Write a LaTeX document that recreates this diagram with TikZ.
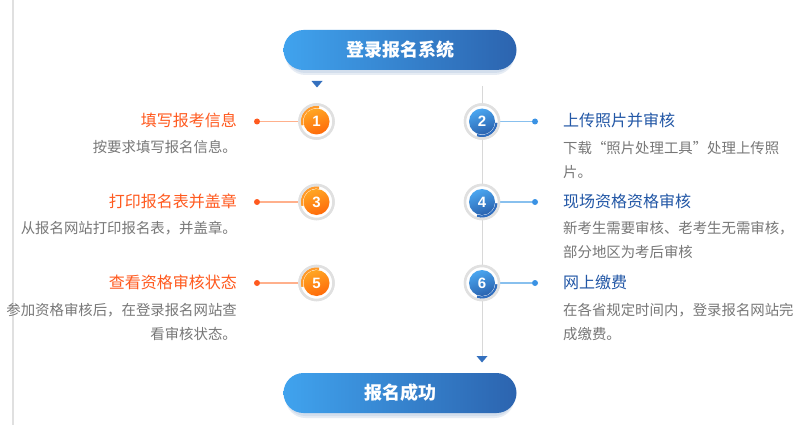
\documentclass[tikz,border=0pt]{standalone}
\usepackage{fontspec}
\setmainfont{Noto Sans CJK SC}
\newfontfamily\numfont{Liberation Sans}
\definecolor{orangeA}{HTML}{FFA623}
\definecolor{orangeB}{HTML}{FF6A0A}
\definecolor{blueA}{HTML}{4AA6F0}
\definecolor{blueB}{HTML}{2A62AE}
\definecolor{labOr}{HTML}{FF5A1F}
\definecolor{labBl}{HTML}{2257A6}
\definecolor{descG}{HTML}{777777}
\definecolor{ringG}{HTML}{E0E0E0}
\definecolor{vlineG}{HTML}{D8D8D8}
\definecolor{pillA}{HTML}{40A3EE}
\definecolor{pillB}{HTML}{2C64AF}
\definecolor{shadowB}{HTML}{9DB6D6}
\definecolor{arcOr}{HTML}{FF9A2A}
\definecolor{arcBl}{HTML}{2F6DBE}
\definecolor{lineOr}{HTML}{FFB08C}
\definecolor{dotOr}{HTML}{FF5A1F}
\definecolor{lineBl}{HTML}{88C0EE}
\definecolor{dotBl}{HTML}{3A92E4}
\definecolor{triB}{HTML}{3470BE}
\tikzset{
  pill/.style={rounded corners=20pt, minimum width=233pt, minimum height=40pt,
    inner sep=0pt, left color=pillA, right color=pillB, text=white,
    font=\fontsize{18}{20}\selectfont\bfseries},
  pillshadow/.style={rounded corners=20pt, minimum width=229pt, minimum height=40pt,
    inner sep=0pt, fill=shadowB},
  ring/.style={circle, minimum size=34pt, inner sep=0pt, fill=white, draw=ringG, line width=2.5pt},
  oball/.style={circle, minimum size=26pt, inner sep=0pt, shading=axis,
    top color=orangeA, bottom color=orangeB, shading angle=20, text=white,
    font=\numfont\fontsize{15}{15}\selectfont\bfseries},
  bball/.style={circle, minimum size=26pt, inner sep=0pt, shading=axis,
    top color=blueA, bottom color=blueB, shading angle=20, text=white,
    font=\numfont\fontsize{15}{15}\selectfont\bfseries},
  oarc/.style={draw=arcOr, line width=2.4pt},
  barc/.style={draw=arcBl, line width=2.4pt},
  oline/.style={draw=lineOr, line width=1.8pt},
  bline/.style={draw=lineBl, line width=1.8pt},
  odot/.style={circle, fill=dotOr, minimum size=6pt, inner sep=0pt},
  bdot/.style={circle, fill=dotBl, minimum size=6pt, inner sep=0pt},
  olab/.style={anchor=base east, inner sep=0pt, text=labOr, font=\fontsize{16}{18}\selectfont},
  blab/.style={anchor=base west, inner sep=0pt, text=labBl, font=\fontsize{16}{18}\selectfont},
  ldesc/.style={anchor=base east, inner sep=0pt, align=right, text=descG, font=\fontsize{14.4}{24}\selectfont},
  rdesc/.style={anchor=base west, inner sep=0pt, align=left, text=descG, font=\fontsize{14.4}{24}\selectfont},
  vline/.style={draw=vlineG, line width=1pt},
  tri/.style={fill=triB}
}
\begin{document}
\begin{tikzpicture}[x=1pt,y=-1pt]
\useasboundingbox[fill=white] (0,0) rectangle (808,425);
% left border line
\coordinate (bt) at (13,0);
\coordinate (bb) at (13,425);
\draw[draw=ringG, line width=1.5pt] (bt) -- (bb);

% central line
\coordinate (ltop) at (482,86);
\coordinate (lbot) at (482,357);
\draw[vline] (ltop) -- (lbot);

% pills with shadows
\node[pillshadow, opacity=0.25] at (400,55) {};
\node[pillshadow, opacity=0.25] at (400,53) {};
\node[pill] (start) at (400,50) {登录报名系统};
\node[pillshadow, opacity=0.25] at (400,398) {};
\node[pillshadow, opacity=0.25] at (400,396) {};
\node[pill] (finish) at (400,393) {报名成功};

% triangles
\fill[tri] (311.5,81) -- (322.5,81) -- (317,87.5) -- cycle;
\fill[tri] (476.5,356) -- (487.5,356) -- (482,362.5) -- cycle;

% ---------- odd steps (left) ----------
\foreach \n/\yy in {1/121.5, 3/202, 5/283}{
  \node[odot] (d\n) at (257,\yy) {};
  \node[ring] (c\n) at (316.5,\yy) {};
  \draw[oline] (d\n) -- (c\n);
  \node[ring, draw=none] at (c\n) {};
  \draw[oarc] (c\n.center) ++(80:14.6pt) arc[start angle=80, end angle=195, radius=14.6pt];
  \node[oball] (n\n) at (c\n) {\n};
}
% ---------- even steps (right) ----------
\foreach \n/\yy in {2/121.5, 4/202, 6/283}{
  \node[bdot] (d\n) at (535,\yy) {};
  \node[ring] (c\n) at (482,\yy) {};
  \draw[bline] (c\n) -- (d\n);
  \node[ring, draw=none] at (c\n) {};
  \draw[barc] (c\n.center) ++(250:14.6pt) arc[start angle=250, end angle=355, radius=14.6pt];
  \node[bball] (n\n) at (c\n) {\n};
}
\foreach \n in {1,...,6}{
  \draw[draw=ringG, line width=2.5pt] (c\n) circle[radius=17pt];
}

% labels
\node[olab] (l1) at (237,126.5) {填写报考信息};
\node[ldesc] (t1) at (237,153) {按要求填写报名信息。};
\node[olab] (l3) at (237,207.5) {打印报名表并盖章};
\node[ldesc] (t3) at (237,233) {从报名网站打印报名表，并盖章。};
\node[olab] (l5) at (237,288.5) {查看资格审核状态};
\node[ldesc] (t5) at (237,339.5) {参加资格审核后，在登录报名网站查\\看审核状态。};

\node[blab] (l2) at (563,126.5) {上传照片并审核};
\node[rdesc] (t2) at (563,177.5) {下载“照片处理工具”处理上传照\\片。};
\node[blab] (l4) at (563,207.5) {现场资格资格审核};
\node[rdesc] (t4) at (563,257.5) {新考生需要审核、老考生无需审核，\\部分地区为考后审核};
\node[blab] (l6) at (563,288.5) {网上缴费};
\node[rdesc] (t6) at (563,339.5) {在各省规定时间内，登录报名网站完\\成缴费。};
\end{tikzpicture}
\end{document}
